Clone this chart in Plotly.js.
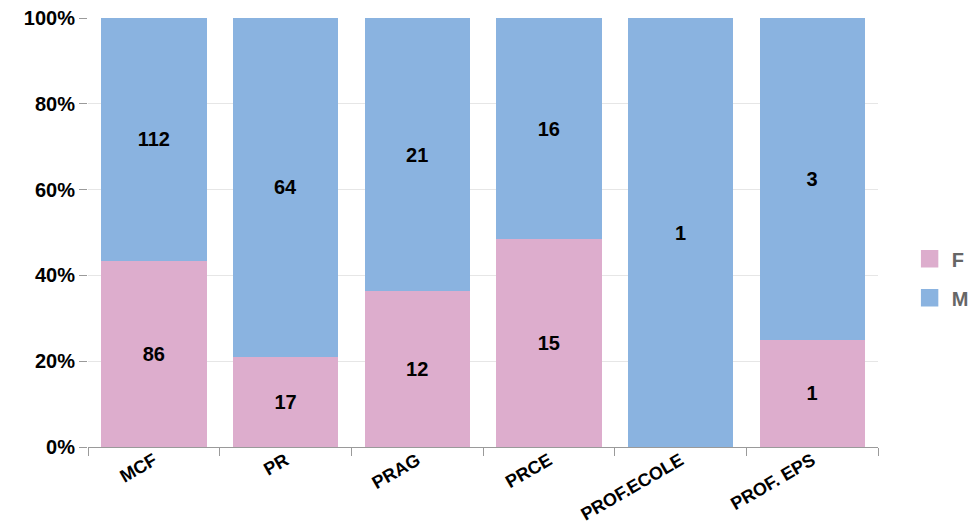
<!DOCTYPE html>
<html>
<head>
<meta charset="utf-8">
<script src="https://cdn.plot.ly/plotly-3.0.1.min.js"></script>
<style>
  html, body { margin: 0; padding: 0; background: #fff; }
  #chart { width: 975px; height: 529px; }
</style>
</head>
<body>
<div id="chart"></div>
<script>
// Staff counts by category and sex
const categories = ['MCF', 'PR', 'PRAG', 'PRCE', 'PROF.ECOLE', 'PROF. EPS'];
const femmes = [86, 17, 12, 15, 0, 1];
const hommes = [112, 64, 21, 16, 1, 3];
const yTicks = [0, 20, 40, 60, 80, 100];

const fontFamily = '"Liberation Sans", Arial, sans-serif';
const labelFont = { family: fontFamily, size: 20, color: '#000', weight: 'bold' };

function labels(vals) {
  return vals.map(v => (v > 0 ? String(v) : ''));
}

function series(name, vals, color) {
  return {
    type: 'bar',
    name: name,
    legendgroup: name,
    x: categories,
    y: vals,
    text: labels(vals),
    textposition: 'inside',
    insidetextanchor: 'middle',
    textangle: 0,
    constraintext: 'none',
    textfont: labelFont,
    marker: { color: color, line: { width: 0 } },
    hoverinfo: 'none'
  };
}

const data = [
  series('F', femmes, '#ddadcd'),
  series('M', hommes, '#8ab3e0')
];

const layout = {
  width: 975,
  height: 529,
  margin: { l: 88, r: 97, t: 18, b: 82 },
  paper_bgcolor: '#fff',
  plot_bgcolor: '#fff',
  barmode: 'stack',
  barnorm: 'percent',
  bargap: 0.2,
  showlegend: true,
  legend: {
    xref: 'container',
    yref: 'container',
    x: 0.935,
    xanchor: 'left',
    y: 0.474,
    yanchor: 'middle',
    traceorder: 'grouped',
    tracegroupgap: 10,
    font: { family: fontFamily, size: 20, color: '#666', weight: 'bold' },
    bgcolor: 'rgba(0,0,0,0)'
  },
  xaxis: {
    type: 'category',
    tickson: 'boundaries',
    ticks: 'outside',
    ticklen: 8,
    tickcolor: '#9a9a9a',
    showline: true,
    linecolor: '#9a9a9a',
    linewidth: 1,
    showgrid: false,
    tickangle: -30,
    ticklabelstandoff: -5,
    tickfont: { family: fontFamily, size: 18, color: '#000', weight: 'bold' }
  },
  yaxis: {
    range: [0, 100],
    tickvals: yTicks,
    ticktext: yTicks.map(v => v + '%'),
    ticks: 'outside',
    ticklen: 8,
    tickcolor: '#9a9a9a',
    showline: false,
    zeroline: false,
    showgrid: true,
    gridcolor: '#e6e6e6',
    gridwidth: 1,
    tickfont: labelFont
  }
};

Plotly.newPlot('chart', data, layout, { staticPlot: true, displayModeBar: false }).then(() => {
  // enlarge the legend swatches
  document.querySelectorAll('.legendpoints path').forEach(p => {
    p.setAttribute('transform', 'translate(18,0) scale(1.45)');
  });
});
</script>
</body>
</html>
